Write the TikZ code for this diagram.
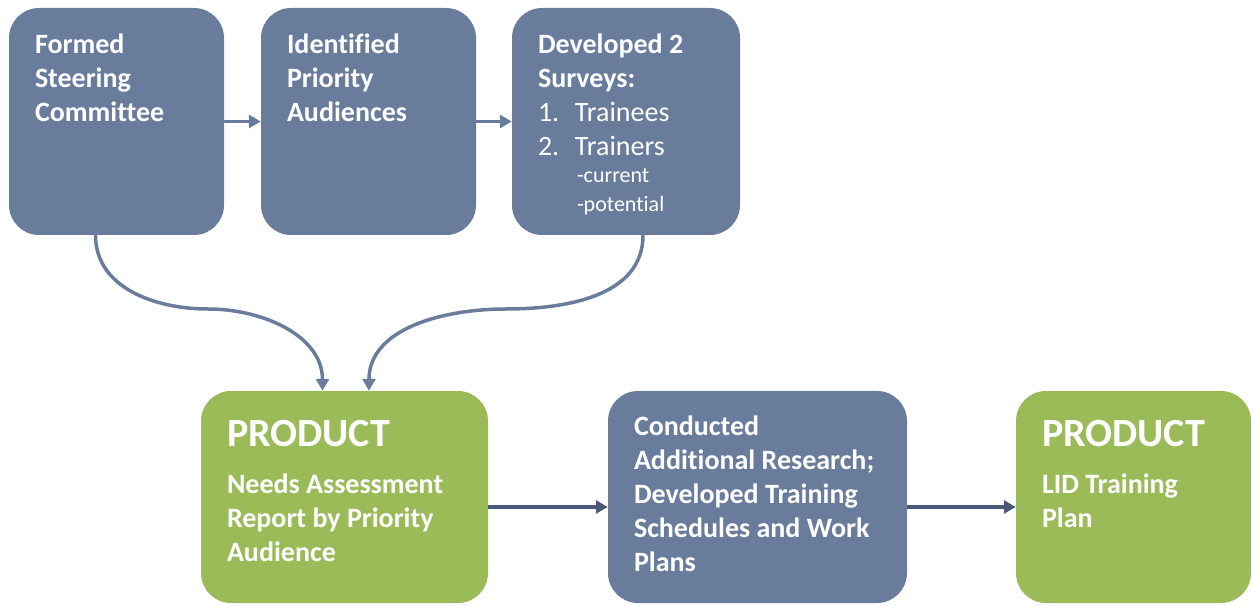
\documentclass[tikz,border=0pt]{standalone}
\usepackage{fontspec}
\setmainfont[Ligatures=NoCommon]{Carlito}
\usepackage{tikz}
\usetikzlibrary{arrows.meta}
\definecolor{slate}{HTML}{697C9C}
\definecolor{leaf}{HTML}{9BBB59}
\definecolor{ink}{HTML}{4A5878}
\tikzset{
    stepbox/.style={rounded corners=30pt, fill=slate, inner sep=0pt, minimum height=227pt}, % 上排步骤框
    prodbox/.style={stepbox, minimum height=212pt}, % 下排框
    boxtext/.style={text=white, inner sep=0pt, align=left, anchor=north west, font=\fontsize{28}{34}\selectfont\bfseries}, % 框内文字
    bigtext/.style={boxtext, font=\fontsize{40}{48}\selectfont\bfseries}, % PRODUCT 标题
    flow/.style={draw=slate, line width=3.5pt, -{Triangle[length=12pt, width=13pt]}}, % 浅色箭头
    darkflow/.style={flow, draw=ink, line width=4pt} % 深色箭头
}

\begin{document}
\begin{tikzpicture}[x=1pt, y=1pt]
            \useasboundingbox (0,0) rectangle (1252,605);

            \node[stepbox, minimum width=215pt] (formed) at (116.5,483.5) {};
            \node[stepbox, minimum width=215pt] (ident) at (368.5,483.5) {};
            \node[stepbox, minimum width=228pt] (surveys) at (626,483.5) {};
            \node[prodbox, fill=leaf, minimum width=287pt] (report) at (344.5,108) {};
            \node[prodbox, minimum width=299pt] (research) at (757.5,108) {};
            \node[prodbox, fill=leaf, minimum width=235pt] (plan) at (1133.5,108) {};

            \node[boxtext] (formedtxt) at ([shift={(26,-25.5)}]formed.north west) {Formed\\Steering\\Committee};
            \node[boxtext] (identtxt) at ([shift={(26,-25.5)}]ident.north west) {Identified\\Priority\\Audiences};
            \node[boxtext, font=\fontsize{28}{34}\selectfont] (surveystxt) at ([shift={(26,-25.5)}]surveys.north west)
                {\bfseries Developed 2\\\bfseries Surveys:\\\makebox[37pt][l]{1.}Trainees\\\makebox[37pt][l]{2.}Trainers};
            \node[boxtext, font=\fontsize{22}{29}\selectfont] (trainerstxt) at ([shift={(65,-161)}]surveys.north west) {-current\\-potential};
            \node[bigtext] (reporthead) at ([shift={(26,-29)}]report.north west) {PRODUCT};
            \node[boxtext] (reporttxt) at ([shift={(26,-82.5)}]report.north west) {Needs Assessment\\Report by Priority\\Audience};
            \node[boxtext] (researchtxt) at ([shift={(26,-24.5)}]research.north west)
                {Conducted\\Additional Research;\\Developed Training\\Schedules and Work\\Plans};
            \node[bigtext] (planhead) at ([shift={(26,-29)}]plan.north west) {PRODUCT};
            \node[boxtext] (plantxt) at ([shift={(26,-82.5)}]plan.north west) {LID Training\\Plan};

            \coordinate (lbend) at (208,296);
            \coordinate (rbend) at (506,296);

            \draw[flow] (formed.east) -- (ident.west);
            \draw[flow] (ident.east) -- (surveys.west);
            \draw[flow] ([xshift=-21pt]formed.south) to[out=-90, in=180] (lbend) to[out=0, in=90] ([xshift=-22pt]report.north);
            \draw[flow] ([xshift=17pt]surveys.south) to[out=-90, in=0] (rbend) to[out=180, in=90] ([xshift=24.5pt]report.north);
            \draw[darkflow] ([yshift=-10pt]report.east) -- ([yshift=-10pt]research.west);
            \draw[darkflow] ([yshift=-10pt]research.east) -- ([yshift=-10pt]plan.west);
        \end{tikzpicture}
\end{document}
